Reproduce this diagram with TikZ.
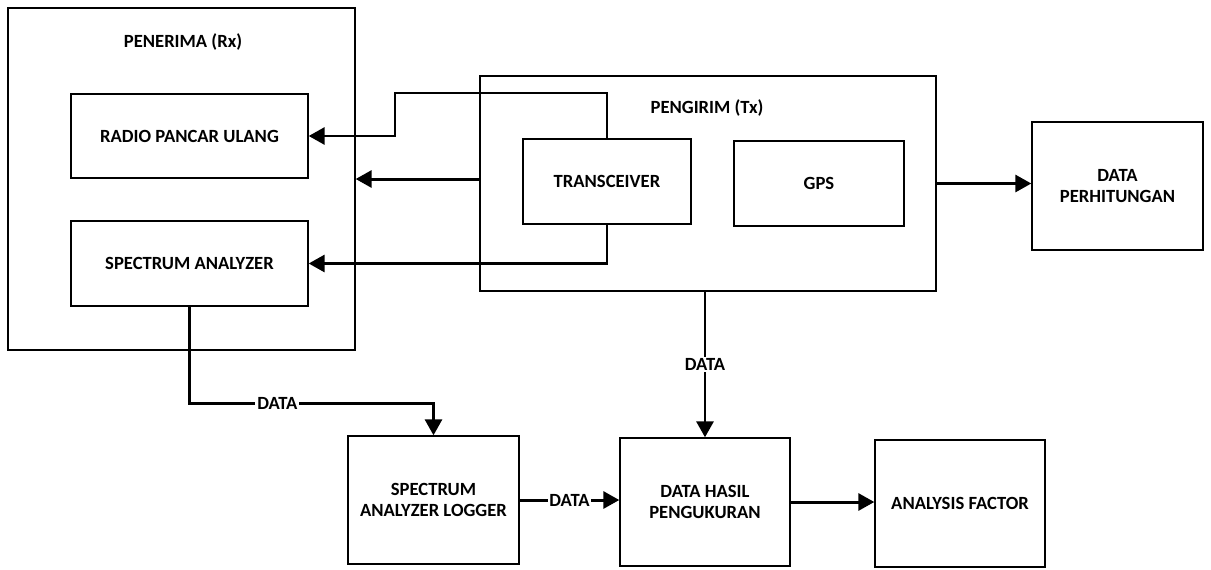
\documentclass[tikz,border=0pt]{standalone}
\usepackage{fontspec}
\setmainfont{Carlito}
\usetikzlibrary{arrows.meta}

\begin{document}
\begin{tikzpicture}[x=0.02cm, y=-0.02cm, >={Triangle[length=0.32cm, width=0.34cm]},
  font=\fontsize{10.6}{12.3}\selectfont\bfseries,
  box/.style 2 args={draw, line width=0.8pt, align=center, inner sep=0pt,
    minimum width=#1cm, minimum height=#2cm},
  arr/.style={->, line width=1.7pt},
  lbl/.style={fill=white, inner sep=1pt}]
  \useasboundingbox (0,0) rectangle (1211,569);

  % penerima
  \node[box={6.94}{6.84}] (rx) at (181.5,179) {};
  \node (rxlbl) at (183,42) {PENERIMA (Rx)};
  \node[box={4.74}{1.68}] (radio) at (189.5,136) {RADIO PANCAR ULANG};
  \node[box={4.74}{1.70}] (spec) at (189.5,263.5) {SPECTRUM ANALYZER};

  % pengirim
  \node[box={9.12}{4.3}] (tx) at (708,183.5) {};
  \node (txlbl) at (707,108) {PENGIRIM (Tx)};
  \node[box={3.36}{1.7}] (trans) at (607,181.5) {TRANSCEIVER};
  \node[box={3.4}{1.7}] (gps) at (819,183.5) {GPS};

  \node[box={3.42}{2.56}] (hitung) at (1117.5,186) {DATA\\PERHITUNGAN};
  \node[box={3.42}{2.56}] (logger) at (433.5,500) {SPECTRUM\\ANALYZER LOGGER};
  \node[box={3.4}{2.56}] (hasil) at (705,502) {DATA HASIL\\PENGUKURAN};
  \node[box={3.4}{2.54}] (factor) at (960,503.5) {ANALYSIS FACTOR};

  \draw[arr] (trans.north) |- (395,93) |- (radio.east);
  \draw[arr] (tx.west |- rx.east) -- (rx.east);
  \draw[arr] (trans.south) |- (spec.east);
  \draw[arr] (tx.east) -- (hitung.west |- tx.east);

  \draw[arr] (spec.south) |- node[lbl, pos=0.68] {DATA} (logger.north |- 0,403) -- (logger.north);
  \draw[arr] (logger.east) -- node[lbl] {DATA} (hasil.west |- logger.east);
  \draw[arr] (tx.south -| hasil.north) -- node[lbl] {DATA} (hasil.north);
  \draw[arr] (hasil.east) -- (factor.west |- hasil.east);
\end{tikzpicture}
\end{document}
